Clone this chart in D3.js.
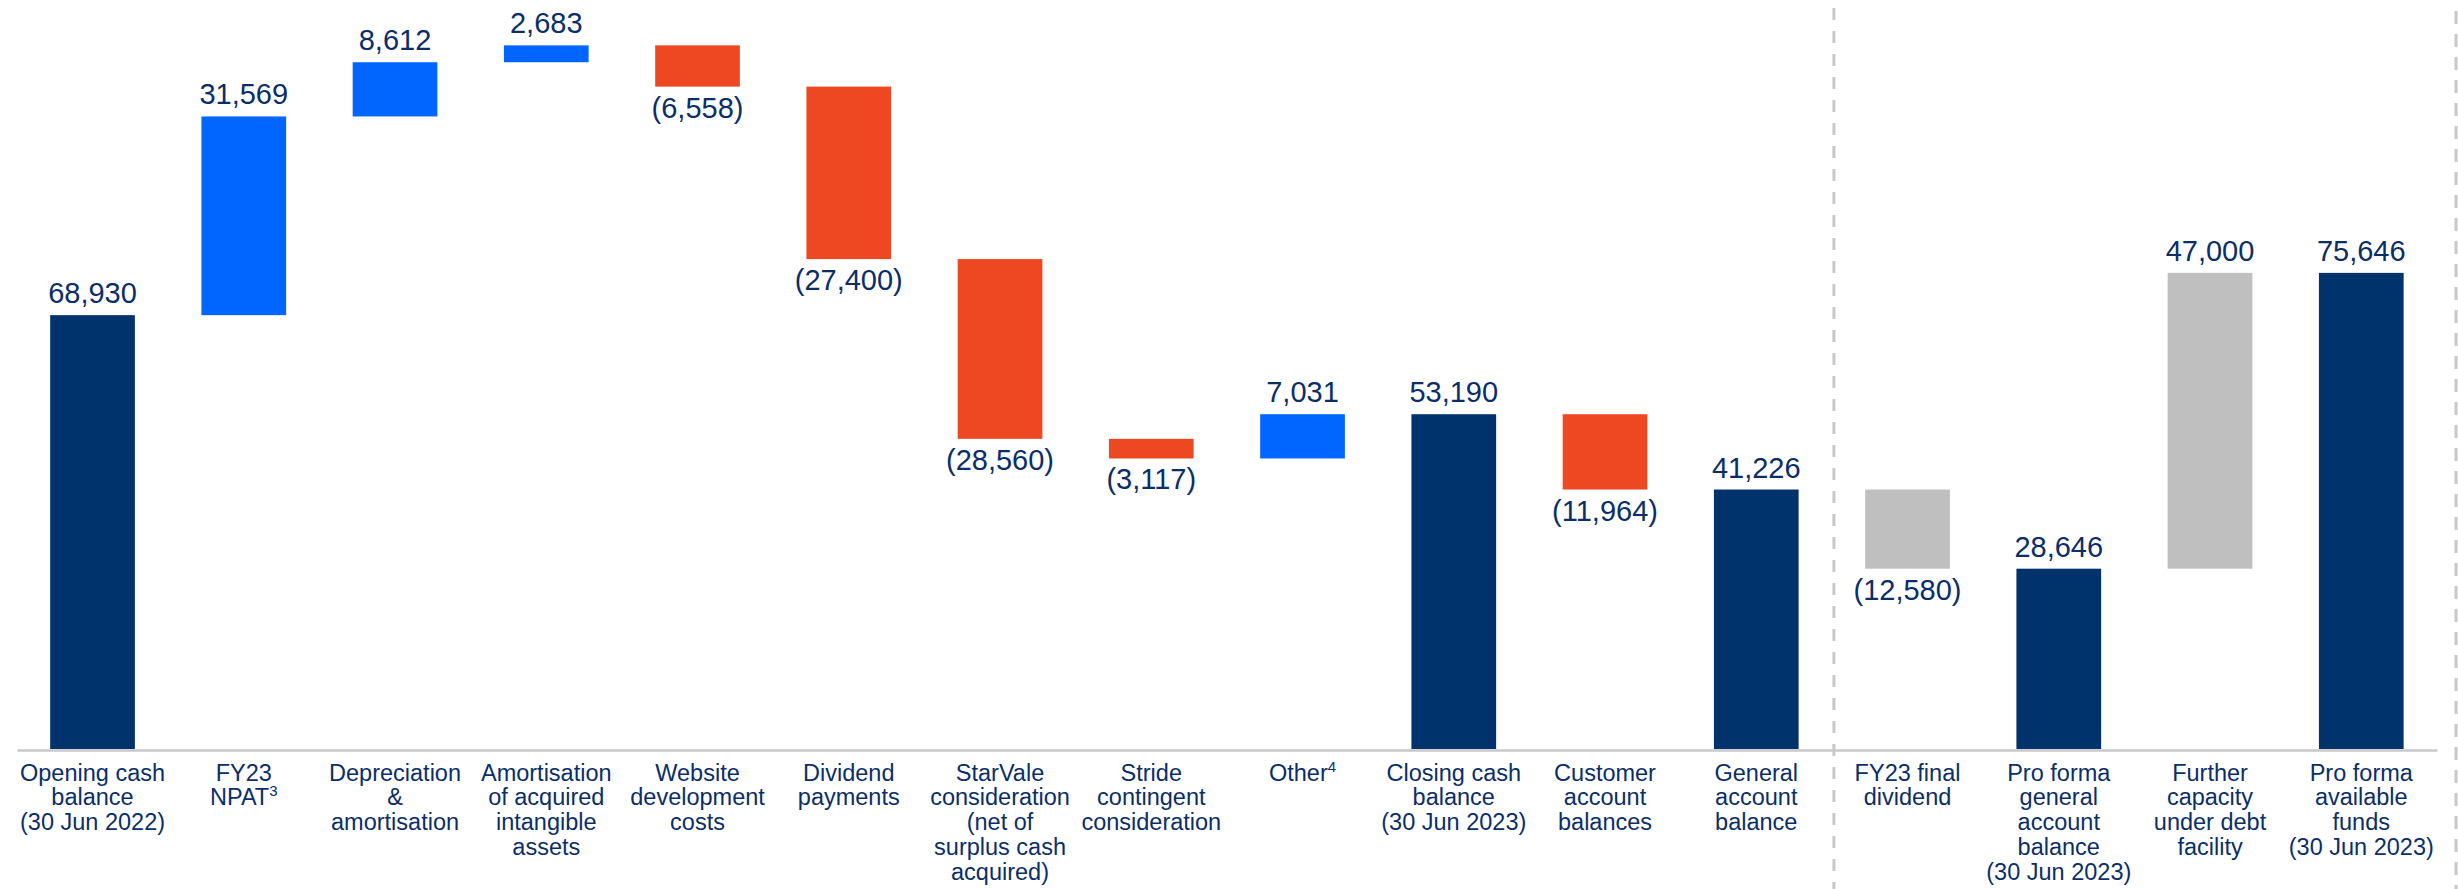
<!DOCTYPE html>
<html><head><meta charset="utf-8">
<script src="https://cdn.jsdelivr.net/npm/d3@7/dist/d3.min.js"></script>
<style>
html,body{margin:0;padding:0;background:#fff;}
svg{display:block;}
text{font-family:"Liberation Sans",Arial,sans-serif;}
</style></head>
<body>
<svg id="chart" width="2458" height="889"></svg>
<script>
// ---- data ----
const categories = [
  ["Opening cash","balance","(30 Jun 2022)"],
  ["FY23","NPAT|3"],
  ["Depreciation","&","amortisation"],
  ["Amortisation","of acquired","intangible","assets"],
  ["Website","development","costs"],
  ["Dividend","payments"],
  ["StarVale","consideration","(net of","surplus cash","acquired)"],
  ["Stride","contingent","consideration"],
  ["Other|4"],
  ["Closing cash","balance","(30 Jun 2023)"],
  ["Customer","account","balances"],
  ["General","account","balance"],
  ["FY23 final","dividend"],
  ["Pro forma","general","account","balance","(30 Jun 2023)"],
  ["Further","capacity","under debt","facility"],
  ["Pro forma","available","funds","(30 Jun 2023)"]
];
const values = [68930, 31569, 8612, 2683, -6558, -27400, -28560, -3117, 7031, 53190, -11964, 41226, -12580, 28646, 47000, 75646];
const kinds  = ["total","up","up","up","down","down","down","down","up","total","down","total","proforma","total","proforma","total"];

const colors = {total:"#00326B", up:"#0066FF", down:"#EE4823", proforma:"#BFBFBF"};
const textColor = "#0B2E68";

// ---- compute waterfall ----
let running = 0;
const bars = values.map((v,i)=>{
  let y0, y1;
  if (kinds[i]==="total") { y0 = 0; y1 = v; running = v; }
  else { y0 = running; y1 = running + v; running = y1; }
  return {i, v, kind:kinds[i], lo:Math.min(y0,y1), hi:Math.max(y0,y1), neg:v<0};
});

const svg = d3.select("#chart");
const W = 2458, H = 889;

const x = d3.scaleBand().domain(d3.range(values.length))
  .range([16.9, 2436.9]).paddingInner(0.44).paddingOuter(0.22);
const y = d3.scaleLinear().domain([0, 119000]).range([749, 0]);

// dashed separators
const sepX = x(11)+x.bandwidth()/2 + x.step()/2 + 2;
svg.append("line")
  .attr("x1", sepX).attr("x2", sepX)
  .attr("y1", 8).attr("y2", H)
  .attr("stroke","#C8C8C8").attr("stroke-width",3).attr("stroke-dasharray","12,11");
svg.append("line")
  .attr("x1", W-2).attr("x2", W-2).attr("y1", 11).attr("y2", H)
  .attr("stroke","#C8C8C8").attr("stroke-width",3).attr("stroke-dasharray","13,10");

// bars
svg.selectAll("rect.bar").data(bars).enter().append("rect")
  .attr("class","bar")
  .attr("x", d=>x(d.i)).attr("width", x.bandwidth())
  .attr("y", d=>y(d.hi)).attr("height", d=>y(d.lo)-y(d.hi))
  .attr("fill", d=>colors[d.kind]);

// value labels
const fmt = d3.format(",");
svg.selectAll("text.val").data(bars).enter().append("text")
  .attr("class","val")
  .attr("x", d=>x(d.i)+x.bandwidth()/2)
  .attr("y", d=> d.neg ? y(d.lo)+31 : y(d.hi)-12)
  .attr("text-anchor","middle")
  .attr("font-size",29)
  .attr("fill", textColor)
  .text(d=> d.neg ? "(" + fmt(-d.v) + ")" : fmt(d.v));

// axis
const axis = d3.axisBottom(x).tickSize(0).tickPadding(0).tickFormat(()=> "");
const g = svg.append("g").attr("transform","translate(0,750)").call(axis);
g.select(".domain").attr("stroke","#C8C8C8").attr("stroke-width",2.5);
g.selectAll(".tick text").remove();
g.selectAll(".tick").each(function(i){
  const t = d3.select(this).append("text")
    .attr("text-anchor","middle").attr("font-size",23.5).attr("fill",textColor)
    .attr("y",30.5);
  categories[i].forEach((line,k)=>{
    const parts = line.split("|");
    t.append("tspan").attr("x",0).attr("dy", k===0?0:24.8).text(parts[0]);
    if (parts[1]) {
      t.append("tspan").attr("font-size",15).attr("dy",-9).text(parts[1]);
    }
  });
});
</script>
</body></html>
